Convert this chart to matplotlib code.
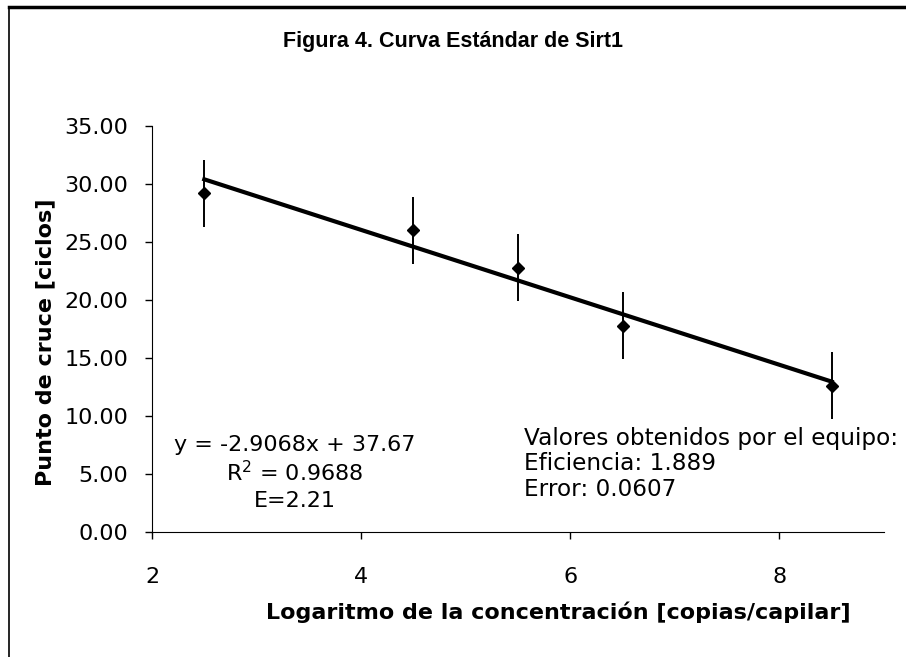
"""Standard curve for Sirt1: crossing point vs log concentration."""

import matplotlib
matplotlib.use("Agg")
import matplotlib.pyplot as plt
import numpy as np
from matplotlib.lines import Line2D

# Data
log_conc = [2.5, 4.5, 5.5, 6.5, 8.5]
crossing_point = [29.2, 26.0, 22.8, 17.8, 12.6]
error = [2.9, 2.9, 2.9, 2.9, 2.9]

slope = -2.9068
intercept = 37.67

eq_lines = ["y = -2.9068x + 37.67", "R$^2$ = 0.9688", "E=2.21"]
team_lines = ["Valores obtenidos por el equipo:", "Eficiencia: 1.889", "Error: 0.0607"]

y_ticks = [0, 5, 10, 15, 20, 25, 30, 35]
x_ticks = [2, 4, 6, 8]

# the original text is wide Arial; DejaVu matches its footprint best
plt.rcParams["font.family"] = ["DejaVu Sans"]
plt.rcParams["mathtext.fontset"] = "dejavusans"

fig = plt.figure(figsize=(9.06, 6.57), dpi=100)
ax = fig.add_axes([152 / 906, 1 - 532 / 657, (884 - 152) / 906, (532 - 126) / 657])

# Trendline over the data range
xfit = np.array([min(log_conc), max(log_conc)])
ax.plot(xfit, slope * xfit + intercept, color="black", lw=3.0, zorder=2)

ax.errorbar(log_conc, crossing_point, yerr=error, fmt="D", color="black",
            markersize=6.5, elinewidth=1.4, capsize=0, zorder=3)

ax.set_xlim(2, 9)
ax.set_ylim(0, 35)
ax.set_xticks(x_ticks)
ax.set_yticks(y_ticks)
ax.set_yticklabels([f"{v:.2f}" for v in y_ticks])
ax.spines["top"].set_visible(False)
ax.spines["right"].set_visible(False)
ax.tick_params(axis="y", direction="out", length=5, width=1, pad=12, labelsize=16)
ax.tick_params(axis="x", direction="out", length=5, width=1, pad=20, labelsize=16)

# Equation annotation (centered) and team values (left aligned)
for i, line in enumerate(eq_lines):
    fig.text(295 / 906, 1 - (445 + 28 * i) / 657, line, ha="center", va="center", fontsize=16)
for i, line in enumerate(team_lines):
    fig.text(524 / 906, 1 - (438 + 25.5 * i) / 657, line, ha="left", va="center", fontsize=16.7)

fig.text(453 / 906, 1 - 42 / 657, "Figura 4. Curva Estándar de Sirt1", ha="center", va="center",
         fontsize=15.5, fontweight="bold", family=["Liberation Sans"])
fig.text(558 / 906, 1 - 612 / 657, "Logaritmo de la concentración [copias/capilar]",
         ha="center", va="center", fontsize=16, fontweight="bold")
fig.text(45 / 906, 1 - 342 / 657, "Punto de cruce [ciclos]", ha="center", va="center",
         rotation=90, fontsize=16, fontweight="bold")

# Outer frame pieces visible in the reference
fig.add_artist(Line2D([9 / 906, 1], [1 - 7 / 657, 1 - 7 / 657], color="black", lw=2.5,
                      transform=fig.transFigure))
fig.add_artist(Line2D([9 / 906, 9 / 906], [0, 1 - 7 / 657], color="black", lw=1.2,
                      transform=fig.transFigure))

fig.savefig("out.png", dpi=100)
